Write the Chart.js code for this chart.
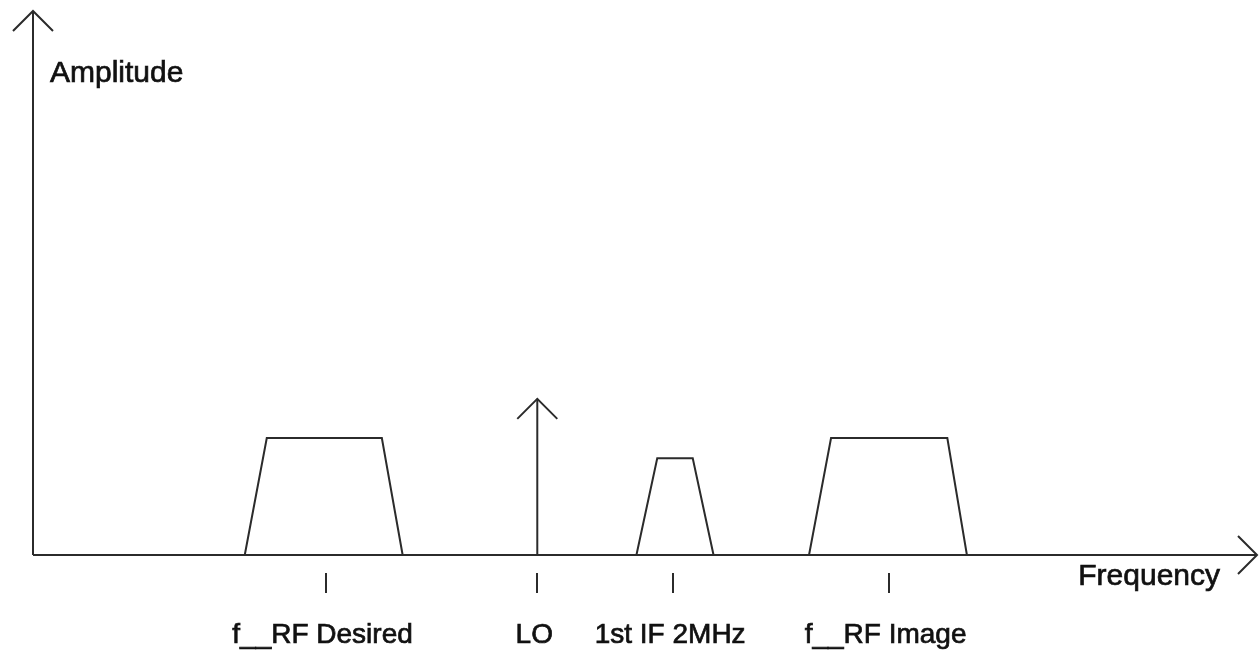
<!DOCTYPE html>
<html>
<head>
<meta charset="utf-8">
<script src="https://cdn.jsdelivr.net/npm/chart.js@4/dist/chart.umd.min.js"></script>
<style>
  html, body { margin: 0; padding: 0; background: #fff; }
  canvas { display: block; }
</style>
</head>
<body>
<canvas id="spectrum" width="1260" height="652"></canvas>
<script>
// frequency axis runs 0..100 (arbitrary units), amplitude 0..100
const bandNames = ['f__RF Desired', 'LO', '1st IF 2MHz', 'f__RF Image'];
const tickFreqs = [23.9, 41.2, 52.3, 69.9];

const desiredFreq = [17.3, 19.1, 28.5, 30.2];
const desiredAmp  = [0, 21.5, 21.5, 0];

const loFreq = [41.2, 41.2];
const loAmp  = [0, 28.7];

const ifFreq = [49.3, 51.0, 53.9, 55.6];
const ifAmp  = [0, 17.8, 17.8, 0];

const imageFreq = [63.4, 65.2, 74.7, 76.3];
const imageAmp  = [0, 21.5, 21.5, 0];

const lineColor = '#2b2b2b';
const fontFamily = "'Liberation Sans', Arial, sans-serif";

function toPoints(xs, ys) {
    return xs.map((x, i) => ({ x: x, y: ys[i] }));
}

function band(xs, ys) {
    return {
        data: toPoints(xs, ys),
        borderColor: lineColor,
        borderWidth: 2,
        pointRadius: 0,
        tension: 0,
        fill: false
    };
}

function arrowHead(ctx, x, y, dir) {
    // 20px arms
    ctx.beginPath();
    if (dir === 'up') {
        ctx.moveTo(x - 20, y + 20); ctx.lineTo(x, y); ctx.lineTo(x + 20, y + 20);
    } else {
        ctx.moveTo(x - 19, y - 19); ctx.lineTo(x, y); ctx.lineTo(x - 19, y + 19);
    }
    ctx.stroke();
}

// text a bit heavier, like the scanned original
function boldText(ctx, txt, x, y) {
    ctx.fillText(txt, x, y);
    ctx.strokeText(txt, x, y);
}

const diagramPlugin = {
    id: 'diagram',
    afterDatasetsDraw(chart) {
        const ctx = chart.ctx;
        const xs = chart.scales.x, ys = chart.scales.y;
        const x0 = xs.getPixelForValue(xs.min), x1 = xs.getPixelForValue(xs.max);
        const y0 = ys.getPixelForValue(ys.min), y1 = ys.getPixelForValue(ys.max);

        ctx.save();
        ctx.strokeStyle = lineColor;
        ctx.lineWidth = 2;
        ctx.lineCap = 'butt';

        // axes
        ctx.beginPath();
        ctx.moveTo(x0, y0); ctx.lineTo(x1, y0);
        ctx.moveTo(x0, y0); ctx.lineTo(x0, y1);
        ctx.stroke();
        arrowHead(ctx, x0, y1, 'up');
        arrowHead(ctx, x1, y0, 'right');

        // LO arrow head
        const loX = xs.getPixelForValue(loFreq[1]);
        const loY = ys.getPixelForValue(loAmp[1]);
        arrowHead(ctx, loX, loY, 'up');

        // tick marks below the axis
        ctx.lineWidth = 2;
        tickFreqs.forEach(f => {
            const px = Math.round(xs.getPixelForValue(f));
            ctx.beginPath();
            ctx.moveTo(px, y0 + 18);
            ctx.lineTo(px, y0 + 38);
            ctx.stroke();
        });

        // text
        ctx.fillStyle = '#111';
        ctx.strokeStyle = '#111';
        ctx.lineWidth = 0.7;
        ctx.textBaseline = 'alphabetic';
        ctx.font = '30px ' + fontFamily;
        ctx.textAlign = 'left';
        boldText(ctx, 'Amplitude', x0 + 17, y1 + 71);
        ctx.textAlign = 'right';
        boldText(ctx, 'Frequency', x1 - 37, y0 + 30);

        ctx.font = '28px ' + fontFamily;
        ctx.textAlign = 'center';
        bandNames.forEach((name, i) => {
            boldText(ctx, name, xs.getPixelForValue(tickFreqs[i]) - 3, y0 + 88);
        });
        ctx.restore();
    }
};

new Chart(document.getElementById('spectrum'), {
    type: 'line',
    data: {
        datasets: [
            band(desiredFreq, desiredAmp),
            band(loFreq, loAmp),
            band(ifFreq, ifAmp),
            band(imageFreq, imageAmp)
        ]
    },
    options: {
        responsive: false,
        devicePixelRatio: 1,
        animation: false,
        clip: false,
        layout: { padding: { left: 33, top: 11, right: 3, bottom: 97 } },
        scales: {
            x: { type: 'linear', min: 0, max: 100, display: false },
            y: { type: 'linear', min: 0, max: 100, display: false }
        },
        plugins: {
            legend: { display: false },
            tooltip: { enabled: false }
        }
    },
    plugins: [diagramPlugin]
});
</script>
</body>
</html>
